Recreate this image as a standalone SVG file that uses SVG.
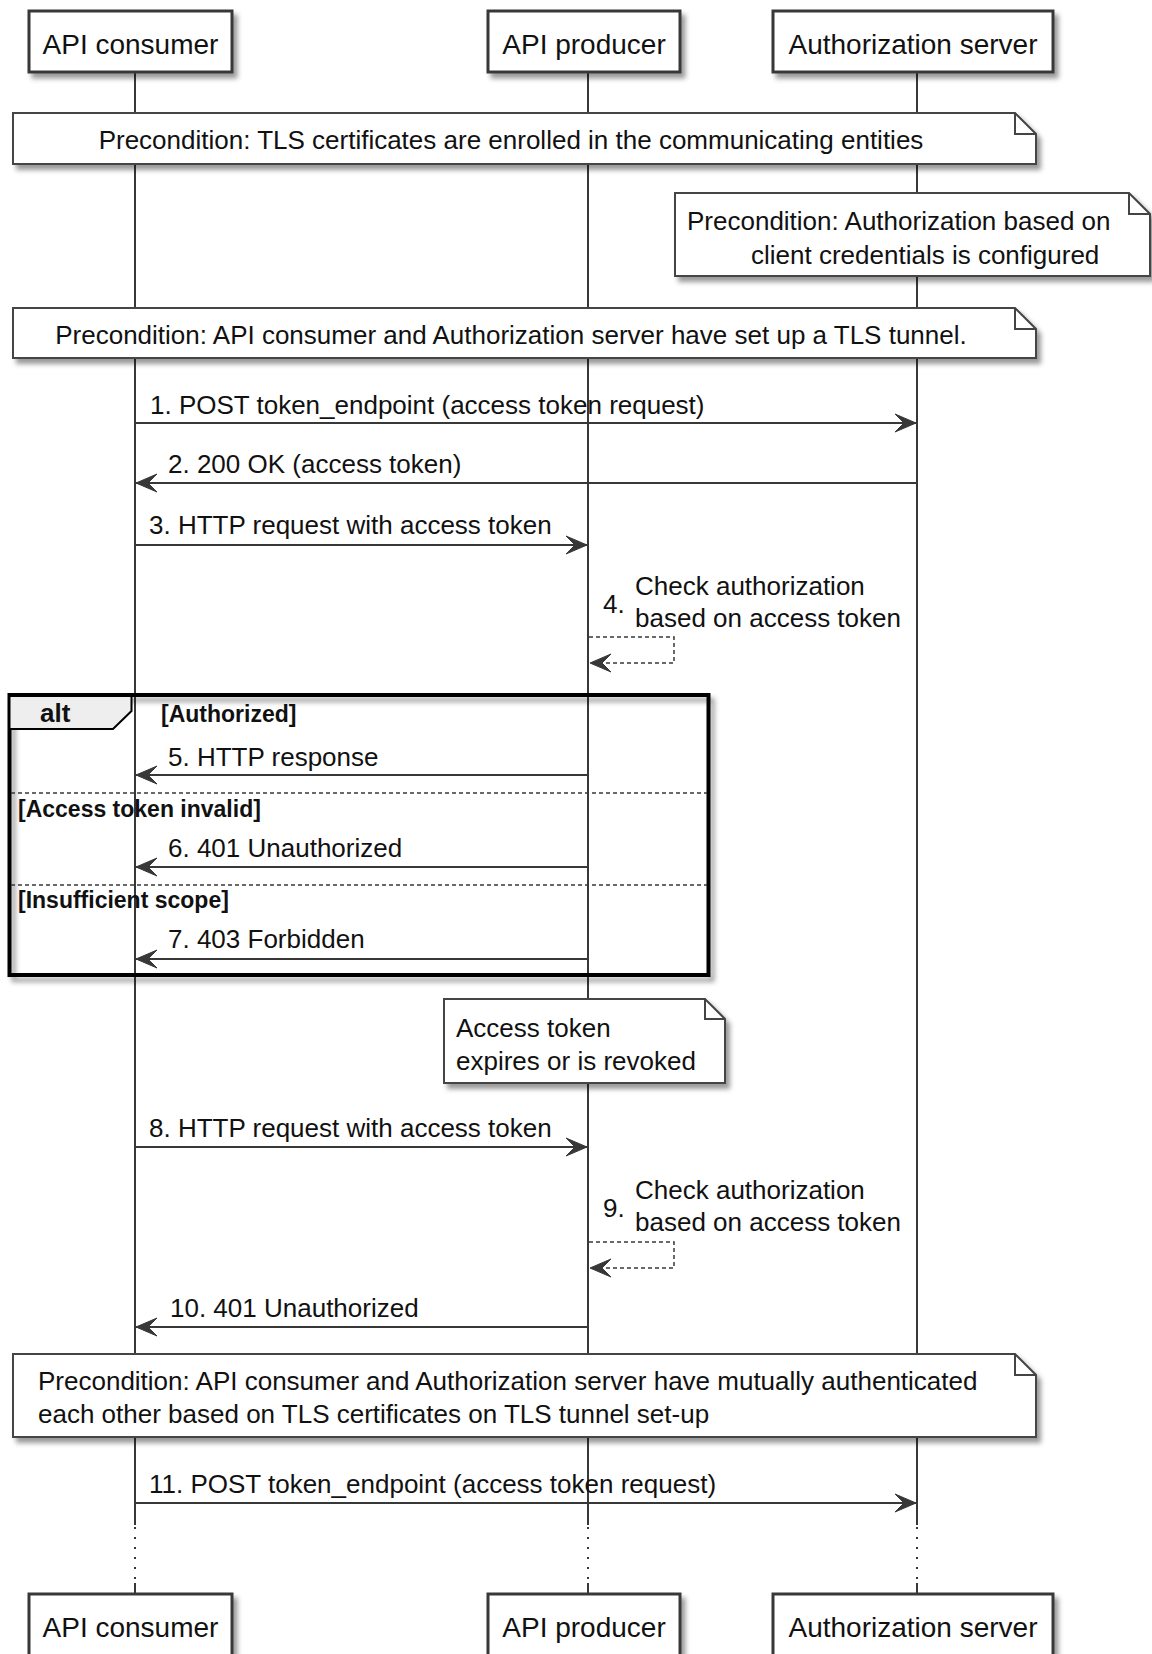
<svg xmlns="http://www.w3.org/2000/svg" width="1152" height="1654" viewBox="0 0 1152 1654">
<defs>
<filter id="sh" x="-5%" y="-20%" width="115%" height="160%">
<feDropShadow dx="4" dy="5" stdDeviation="2.5" flood-color="#000" flood-opacity="0.4"/>
</filter>
<marker id="ah" viewBox="-22 -11 24 22" refX="0" refY="0" markerWidth="24" markerHeight="22" markerUnits="userSpaceOnUse" orient="auto">
<path d="M0,0 L-21,-9 L-12,0 L-21,9 Z" fill="#383838" stroke="#383838" stroke-width="1"/>
</marker>
</defs>
<style>
text{font-family:"Liberation Sans",Arial,sans-serif;fill:#111}
.p{font-size:28px;text-anchor:middle}
.m{font-size:26px}
.n{font-size:26px}
.b{font-size:23px;font-weight:bold}
.box{fill:#fff;stroke:#383838;stroke-width:3}
.note{fill:#fff;stroke:#444;stroke-width:2}
.fold{fill:none;stroke:#444;stroke-width:2}
.ll{stroke:#383838;stroke-width:2;fill:none}
.dot{stroke:#383838;stroke-width:2;fill:none;stroke-dasharray:2,8}
.msg{stroke:#383838;stroke-width:2;fill:none;marker-end:url(#ah)}
.self{stroke:#383838;stroke-width:1.5;fill:none;stroke-dasharray:4,3;marker-end:url(#ah)}
.div{stroke:#383838;stroke-width:1.5;stroke-dasharray:4,3}
</style>
<rect width="1152" height="1654" fill="#fff"/>
<g id="lifelines">
<path class="ll" d="M135,73 V1525 M135,1583 V1594 M588,73 V1525 M588,1583 V1594 M917,73 V1525 M917,1583 V1594"/>
<path class="dot" d="M135,1527 V1583 M588,1527 V1583 M917,1527 V1583"/>
</g>
<g id="consumer">
<rect class="box" x="29" y="11" width="203" height="61" filter="url(#sh)"/>
<text class="p" x="130.5" y="54">API consumer</text>
</g>
<g id="producer">
<rect class="box" x="488" y="11" width="192" height="61" filter="url(#sh)"/>
<text class="p" x="584" y="54">API producer</text>
</g>
<g id="authserver">
<rect class="box" x="773" y="11" width="280" height="61" filter="url(#sh)"/>
<text class="p" x="913" y="54">Authorization server</text>
</g>
<g id="consumer-bottom">
<rect class="box" x="29" y="1594" width="203" height="66" filter="url(#sh)"/>
<text class="p" x="130.5" y="1637">API consumer</text>
</g>
<g id="producer-bottom">
<rect class="box" x="488" y="1594" width="192" height="66" filter="url(#sh)"/>
<text class="p" x="584" y="1637">API producer</text>
</g>
<g id="authserver-bottom">
<rect class="box" x="773" y="1594" width="280" height="66" filter="url(#sh)"/>
<text class="p" x="913" y="1637">Authorization server</text>
</g>
<g id="note1">
<path class="note" d="M13,113 H1015 L1036,134 V164 H13 Z" filter="url(#sh)"/>
<path class="fold" d="M1015,113 V134 H1036"/>
<text class="n" x="511" y="149" text-anchor="middle">Precondition: TLS certificates are enrolled in the communicating entities</text>
</g>
<g id="note2">
<path class="note" d="M675,193 H1129 L1150,214 V276 H675 Z" filter="url(#sh)"/>
<path class="fold" d="M1129,193 V214 H1150"/>
<text class="n" x="687" y="230">Precondition: Authorization based on</text>
<text class="n" x="751" y="264">client credentials is configured</text>
</g>
<g id="note3">
<path class="note" d="M13,308 H1015 L1036,329 V358 H13 Z" filter="url(#sh)"/>
<path class="fold" d="M1015,308 V329 H1036"/>
<text class="n" x="511" y="344" text-anchor="middle">Precondition: API consumer and Authorization server have set up a TLS tunnel.</text>
</g>
<g id="alt">
<rect x="9.5" y="695" width="699" height="280" fill="none" stroke="#000" stroke-width="4" filter="url(#sh)"/>
<path d="M9.5,695 H131.5 V711 L113,729 H9.5 Z" fill="#eee" stroke="#000" stroke-width="2"/>
<path d="M9.5,695 H131.5" stroke="#000" stroke-width="4"/>
<text x="40" y="722" font-size="26" font-weight="bold">alt</text>
<text class="b" x="161" y="722">[Authorized]</text>
<line class="div" x1="11" y1="793" x2="707" y2="793"/>
<text class="b" x="18" y="817">[Access token invalid]</text>
<line class="div" x1="11" y1="885" x2="707" y2="885"/>
<text class="b" x="18" y="908">[Insufficient scope]</text>
</g>
<g id="note4">
<path class="note" d="M444,999 H705 L725,1019 V1083 H444 Z" filter="url(#sh)"/>
<path class="fold" d="M705,999 V1019 H725"/>
<text class="n" x="456" y="1037">Access token</text>
<text class="n" x="456" y="1070">expires or is revoked</text>
</g>
<g id="note5">
<path class="note" d="M13,1354 H1015 L1036,1375 V1437 H13 Z" filter="url(#sh)"/>
<path class="fold" d="M1015,1354 V1375 H1036"/>
<text class="n" x="38" y="1390">Precondition: API consumer and Authorization server have mutually authenticated</text>
<text class="n" x="38" y="1423">each other based on TLS certificates on TLS tunnel set-up</text>
</g>
<g id="connectors">
<line class="msg" x1="135" y1="423" x2="916" y2="423"/>
<text class="m" x="150" y="414">1. POST token_endpoint (access token request)</text>
<line class="msg" x1="917" y1="483" x2="136" y2="483"/>
<text class="m" x="168" y="473">2. 200 OK (access token)</text>
<line class="msg" x1="135" y1="545" x2="587" y2="545"/>
<text class="m" x="149" y="534">3. HTTP request with access token</text>
<path class="self" d="M589,637 H674 V663 H590"/>
<text class="m" x="603" y="613">4.</text>
<text class="m" x="635" y="595">Check authorization</text>
<text class="m" x="635" y="627">based on access token</text>
<line class="msg" x1="588" y1="775" x2="136" y2="775"/>
<text class="m" x="168" y="766">5. HTTP response</text>
<line class="msg" x1="588" y1="867" x2="136" y2="867"/>
<text class="m" x="168" y="857">6. 401 Unauthorized</text>
<line class="msg" x1="588" y1="959" x2="136" y2="959"/>
<text class="m" x="168" y="948">7. 403 Forbidden</text>
<line class="msg" x1="135" y1="1147" x2="587" y2="1147"/>
<text class="m" x="149" y="1137">8. HTTP request with access token</text>
<path class="self" d="M589,1242 H674 V1268 H590"/>
<text class="m" x="603" y="1217">9.</text>
<text class="m" x="635" y="1199">Check authorization</text>
<text class="m" x="635" y="1231">based on access token</text>
<line class="msg" x1="588" y1="1327" x2="136" y2="1327"/>
<text class="m" x="170" y="1317">10. 401 Unauthorized</text>
<line class="msg" x1="135" y1="1503" x2="916" y2="1503"/>
<text class="m" x="149" y="1493">11. POST token_endpoint (access token request)</text>
</g>
</svg>
